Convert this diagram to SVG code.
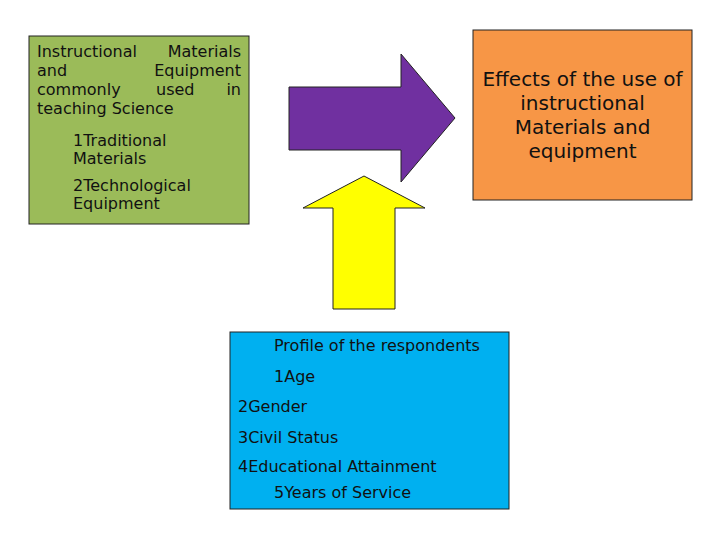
<svg xmlns="http://www.w3.org/2000/svg" width="728" height="546" viewBox="0 0 728 546">
<style>
  text { font-family: "DejaVu Sans", Verdana, sans-serif; fill: #111; }
  .s16 { font-size: 16px; }
  .s20 { font-size: 20px; text-anchor: middle; }
  .box { stroke: #222; stroke-width: 1; }
  .arr { stroke: #222; stroke-width: 1; stroke-linejoin: miter; }
</style>
<rect width="728" height="546" fill="#ffffff"/>

<g id="materials">
  <rect class="box" x="29" y="36" width="220" height="188" fill="#9BBB59"/>
  <text class="s16" x="37" y="57">Instructional</text>
  <text class="s16" x="241" y="57" text-anchor="end">Materials</text>
  <text class="s16" x="37" y="76">and</text>
  <text class="s16" x="241" y="76" text-anchor="end">Equipment</text>
  <text class="s16" x="37" y="95">commonly</text>
  <text class="s16" x="156" y="95">used</text>
  <text class="s16" x="241" y="95" text-anchor="end">in</text>
  <text class="s16" x="37" y="114">teaching Science</text>
  <text class="s16" x="73" y="146">1Traditional</text>
  <text class="s16" x="73" y="164">Materials</text>
  <text class="s16" x="73" y="191">2Technological</text>
  <text class="s16" x="73" y="209">Equipment</text>
</g>

<g id="effects">
  <rect class="box" x="473" y="30" width="219" height="170" fill="#F79646"/>
  <text class="s20" x="582.5" y="86">Effects of the use of</text>
  <text class="s20" x="582.5" y="110">instructional</text>
  <text class="s20" x="582.5" y="134">Materials and</text>
  <text class="s20" x="582.5" y="158">equipment</text>
</g>

<g id="profile">
  <rect class="box" x="230" y="332" width="279" height="177" fill="#00B0F0"/>
  <text class="s16" x="274" y="351">Profile of the respondents</text>
  <text class="s16" x="274" y="382">1Age</text>
  <text class="s16" x="238" y="412">2Gender</text>
  <text class="s16" x="238" y="443">3Civil Status</text>
  <text class="s16" x="238" y="472">4Educational Attainment</text>
  <text class="s16" x="274" y="498">5Years of Service</text>
</g>

<g id="connectors">
  <polygon class="arr" fill="#7030A0" points="289,87 401,87 401,54 455,118 401,182 401,150 289,150"/>
  <polygon class="arr" fill="#FFFF00" points="333,309 333,208 303,208 364,176 425,208 395,208 395,309"/>
</g>
</svg>
